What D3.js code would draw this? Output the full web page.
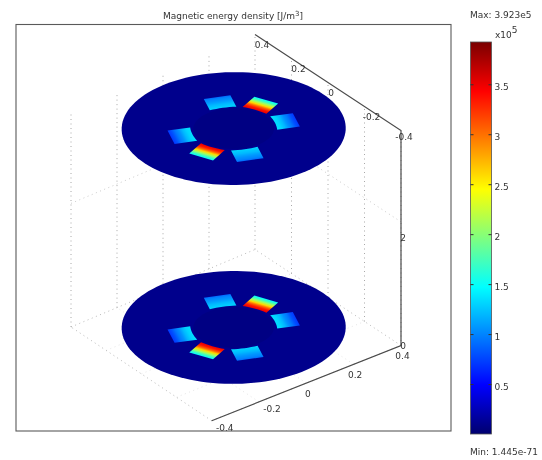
<!DOCTYPE html>
<html>
<head>
<meta charset="utf-8">
<script src="https://cdn.jsdelivr.net/npm/d3@7"></script>
<style>
  html, body { margin: 0; padding: 0; background: #fff; }
  svg { display: block; filter: blur(0.45px); }
  text { font-family: "DejaVu Sans", sans-serif; font-size: 9px; fill: #333; }
</style>
</head>
<body>
<div id="chart"></div>
<script>
// Values (field values in units of 1e5 J/m3)
var xTicks = [-0.4, -0.2, 0, 0.2, 0.4];
var yTicks = [-0.4, -0.2, 0, 0.2, 0.4];
var zTicks = [0, 0.2];
var zTickLabels = ["0", "2"];
var wallGridZ = [0.23];
var colorTicks = [0.5, 1, 1.5, 2, 2.5, 3, 3.5];
var fieldMin = 0;
var fieldMax = 3.923;
var jetColors = ["#00006e", "#0000ff", "#00ffff", "#7fff7f", "#ffff00", "#ff0000", "#7a0000"];
var jetValues = [0, 0.49, 1.47, 1.96, 2.45, 3.43, 3.923];

var diskLevels = [0.015, 0.385];
var diskRadius = 0.375;
var holeRadius = 0.135;
var diskField = 0.1;
var holeField = 0.07;

var magnetAngles = [22.5, 67.5, -22.5, 202.5, 247.5, 157.5];
var magnetInner = 0.143;
var magnetOuter = 0.217;
var magnetHalfWidth = 0.046;
// inner edge to outer edge
var hotProfile = [3.5, 3.35, 3.05, 2.6, 2.1, 1.7, 1.45];
var coolProfile = [1.3, 1.25, 1.2, 1.12, 1.05, 1.0, 0.9];
var sideProfile = [1.35, 1.3, 1.2, 1.05, 0.95, 0.8, 0.7];
var magnetProfiles = [hotProfile, coolProfile, sideProfile, hotProfile, coolProfile, sideProfile];

var svg = d3.select("#chart").append("svg").attr("width", 542).attr("height", 460);

var jet = d3.scaleLinear().domain(jetValues).range(jetColors).clamp(true);

// Disks use a plain parallel projection around the centre of the floor
var xToPx = d3.scaleLinear().domain([-0.4, 0.4]).range([-95, 95]);
var xToPy = d3.scaleLinear().domain([-0.4, 0.4]).range([37, -37]);
var yToPx = d3.scaleLinear().domain([-0.4, 0.4]).range([72.5, -72.5]);
var yToPy = d3.scaleLinear().domain([-0.4, 0.4]).range([47.5, -47.5]);
var zToPy = d3.scaleLinear().domain([0, 0.4]).range([0, -215]);

function project(x, y, z) {
  return [233.7 + xToPx(x) + yToPx(y), 335.5 + xToPy(x) + yToPy(y) + zToPy(z)];
}

// The box has some perspective, so its grid goes through the four floor corners
var cornerFrontRight = [401, 345.5];
var cornerFrontLeft = [211.7, 420.7];
var cornerBackLeft = [71, 327];
var cornerBackRight = [255, 249.5];
var toUnit = d3.scaleLinear().domain([-0.4, 0.4]).range([0, 1]);

function boxPoint(x, y, z) {
  var front = d3.interpolate(cornerFrontLeft, cornerFrontRight)(toUnit(x));
  var back = d3.interpolate(cornerBackLeft, cornerBackRight)(toUnit(x));
  var p = d3.interpolate(front, back)(toUnit(y));
  return [p[0], p[1] + zToPy(z)];
}

var openLine = d3.line();
var closedLine = d3.line().curve(d3.curveLinearClosed);

// ── Dotted grid ──────────────────────────────────────────
var grid = svg.append("g")
  .attr("fill", "none")
  .attr("stroke", "#a8a8a8")
  .attr("stroke-width", 1)
  .attr("stroke-dasharray", "1 3.5");

function isEdge(v) { return Math.abs(v) === 0.4; }

xTicks.forEach(function (x) {
  grid.append("path")
    .attr("d", openLine([boxPoint(x, -0.4, 0), boxPoint(x, 0.4, 0)]))
    .attr("opacity", isEdge(x) ? 0.8 : 0.3);
  grid.append("path").attr("d", openLine([boxPoint(x, 0.4, 0), boxPoint(x, 0.4, 0.4)]));
});
yTicks.forEach(function (y) {
  grid.append("path")
    .attr("d", openLine([boxPoint(-0.4, y, 0), boxPoint(0.4, y, 0)]))
    .attr("opacity", isEdge(y) ? 0.8 : 0.3);
  if (y !== 0.4) {
    grid.append("path").attr("d", openLine([boxPoint(0.4, y, 0), boxPoint(0.4, y, 0.4)]));
  }
});
wallGridZ.forEach(function (z) {
  grid.append("path").attr("d", openLine([boxPoint(-0.4, 0.4, z), boxPoint(0.4, 0.4, z), boxPoint(0.4, -0.4, z)])).attr("opacity", 0.6);
});

// ── Disks with magnets ───────────────────────────────────
var defs = svg.append("defs");

function circlePath(r, z) {
  return closedLine(d3.range(0, 360, 3).map(function (a) {
    var t = a * Math.PI / 180;
    return project(r * Math.cos(t), r * Math.sin(t), z);
  }));
}

// local point: u along the magnet's radial axis, v across it
function magnetPoint(angle, u, v, z) {
  var t = angle * Math.PI / 180;
  return project(u * Math.cos(t) - v * Math.sin(t), u * Math.sin(t) + v * Math.cos(t), z);
}

diskLevels.forEach(function (z, level) {
  var g = svg.append("g");
  g.append("path").attr("d", circlePath(diskRadius, z)).attr("fill", jet(diskField));
  g.append("path").attr("d", circlePath(holeRadius, z)).attr("fill", jet(holeField));

  magnetAngles.forEach(function (angle, i) {
    var profile = magnetProfiles[i];
    var id = "magnet-" + level + "-" + i;
    var from = magnetPoint(angle, magnetInner, 0, z);
    var to = magnetPoint(angle, magnetOuter, 0, z);

    // the view is skewed: drop the part along the magnet's edge so the colour
    // bands stay parallel to that edge on screen
    var edgeA = magnetPoint(angle, magnetOuter, -magnetHalfWidth, z);
    var edgeB = magnetPoint(angle, magnetOuter, magnetHalfWidth, z);
    var ex = edgeB[0] - edgeA[0], ey = edgeB[1] - edgeA[1];
    var dx = to[0] - from[0], dy = to[1] - from[1];
    var along = (dx * ex + dy * ey) / (ex * ex + ey * ey);

    var grad = defs.append("linearGradient")
      .attr("id", id)
      .attr("gradientUnits", "userSpaceOnUse")
      .attr("x1", from[0]).attr("y1", from[1])
      .attr("x2", from[0] + dx - along * ex).attr("y2", from[1] + dy - along * ey);
    profile.forEach(function (v, k) {
      grad.append("stop")
        .attr("offset", k / (profile.length - 1))
        .attr("stop-color", jet(v));
    });

    // inner edge follows the hole, outer edge is straight
    var pts = [edgeA, edgeB];
    d3.range(1, -1.01, -0.25).forEach(function (s) {
      var v = s * magnetHalfWidth;
      pts.push(magnetPoint(angle, Math.sqrt(magnetInner * magnetInner - v * v * 0.6), v, z));
    });
    g.append("path").attr("d", closedLine(pts)).attr("fill", "url(#" + id + ")");
  });
});

// ── Box axes ─────────────────────────────────────────────
var axes = svg.append("g").attr("fill", "none").attr("stroke", "#4a4a4a").attr("stroke-width", 1.2);
axes.append("path").attr("d", openLine([boxPoint(-0.4, -0.4, 0), boxPoint(0.4, -0.4, 0), boxPoint(0.4, -0.4, 0.4), boxPoint(0.4, 0.4, 0.4)]));

function tickText(p, dx, dy, label) {
  svg.append("text")
    .attr("x", p[0] + dx)
    .attr("y", p[1] + dy + 3)
    .attr("text-anchor", "middle")
    .text(label);
}

xTicks.forEach(function (x) {
  var neg = x < 0;
  tickText(boxPoint(x, -0.4, 0), neg ? 13 : 1.5, neg ? 7.5 : 10.5, x);
});
yTicks.forEach(function (y) {
  tickText(boxPoint(0.4, y, 0.4), y === 0 || y === -0.4 ? 3 : 7, y === -0.4 ? 6 : 10, y);
});
zTicks.forEach(function (z, i) {
  tickText(boxPoint(0.4, -0.4, z), 2, 0, zTickLabels[i]);
});

// ── Frame and title ──────────────────────────────────────
svg.append("rect")
  .attr("x", 16).attr("y", 24.5)
  .attr("width", 435).attr("height", 406.5)
  .attr("fill", "none")
  .attr("stroke", "#5a5a5a")
  .attr("stroke-width", 1.1);

var title = svg.append("text").attr("x", 233).attr("y", 18.5).attr("text-anchor", "middle");
title.append("tspan").text("Magnetic energy density [J/m");
title.append("tspan").attr("dy", -3).style("font-size", "7px").text("3");
title.append("tspan").attr("dy", 3).text("]");

// ── Colour bar ───────────────────────────────────────────
var barScale = d3.scaleLinear().domain([fieldMin, fieldMax]).range([434, 42]);

var barGrad = defs.append("linearGradient")
  .attr("id", "jet-bar")
  .attr("x1", 0).attr("y1", 1)
  .attr("x2", 0).attr("y2", 0);
jetValues.forEach(function (v, i) {
  barGrad.append("stop")
    .attr("offset", (v - fieldMin) / (fieldMax - fieldMin))
    .attr("stop-color", jetColors[i]);
});

svg.append("rect")
  .attr("x", 470.5).attr("y", barScale(fieldMax))
  .attr("width", 21).attr("height", barScale(fieldMin) - barScale(fieldMax))
  .attr("fill", "url(#jet-bar)")
  .attr("stroke", "#555")
  .attr("stroke-width", 0.8);

var barRight = svg.append("g")
  .attr("transform", "translate(491.5,0)")
  .call(d3.axisRight(barScale).tickValues(colorTicks).tickSizeInner(-3).tickSizeOuter(0).tickPadding(3).tickFormat(d3.format("~g")));
var barLeft = svg.append("g")
  .attr("transform", "translate(470.5,0)")
  .call(d3.axisLeft(barScale).tickValues(colorTicks).tickSizeInner(-3).tickSizeOuter(0).tickFormat(""));
[barRight, barLeft].forEach(function (a) {
  a.select(".domain").remove();
  a.selectAll("line").attr("stroke", "#333");
  a.selectAll("text")
    .attr("dy", "0.6em")
    .style("font-family", "\"DejaVu Sans\", sans-serif")
    .style("font-size", "9px")
    .attr("fill", "#333");
});

svg.append("text").attr("x", 470).attr("y", 18).text("Max: 3.923e5");
var exponent = svg.append("text").attr("x", 495).attr("y", 38);
exponent.append("tspan").text("x10");
exponent.append("tspan").attr("dy", -5).text("5");
svg.append("text").attr("x", 470).attr("y", 455).text("Min: 1.445e-71");
</script>
</body>
</html>
